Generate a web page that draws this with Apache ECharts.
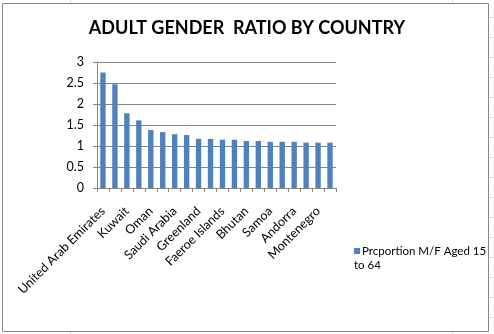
<!DOCTYPE html>
<html>
<head>
<meta charset="utf-8">
<style>
  html, body { margin: 0; padding: 0; background: #ffffff; }
  #chart { width: 494px; height: 334px; }
</style>
<script src="https://cdn.jsdelivr.net/npm/echarts@6/dist/echarts.min.js"></script>
</head>
<body>
<div id="chart"></div>
<script>
// Countries ranked by adult (15-64) male/female ratio
const countries = [
  'United Arab Emirates', 'Qatar', 'Kuwait', 'Bahrain', 'Oman',
  'Northern Mariana Islands', 'Saudi Arabia', 'Palau', 'Greenland', 'Brunei',
  'Faeroe Islands', 'Maldives', 'Bhutan', 'Cook Islands', 'Samoa',
  'American Samoa', 'Andorra', 'Jordan', 'Montenegro', 'Libya'
];
const ratios = [
  2.75, 2.47, 1.78, 1.61, 1.38,
  1.33, 1.28, 1.26, 1.17, 1.17,
  1.15, 1.15, 1.12, 1.12, 1.10,
  1.10, 1.10, 1.08, 1.08, 1.08
];
const yTicks = [0, 0.5, 1, 1.5, 2, 2.5, 3];
const seriesName = 'Prcportion M/F Aged 15 to 64';
const legendLines = ['Prcportion M/F Aged 15', 'to 64'];
const chartTitle = 'ADULT GENDER  RATIO BY COUNTRY';

const FONT = 'Lato, "Open Sans", sans-serif';
const BAR = '#4f81bd';
const LINE = '#868686';

// faint spreadsheet cell lines around the chart frame
const sheetLines = [];
for (let y = 17; y < 334; y += 20) {
  sheetLines.push({ type: 'line', silent: true, z: -1,
    shape: { x1: 490, y1: y + 0.5, x2: 494, y2: y + 0.5 },
    style: { stroke: '#d6dbe4', lineWidth: 1 } });
}
[70, 452].forEach(function (x) {
  sheetLines.push({ type: 'line', silent: true, z: -1,
    shape: { x1: x + 0.5, y1: 0, x2: x + 0.5, y2: 3 },
    style: { stroke: '#d6dbe4', lineWidth: 1 } });
  sheetLines.push({ type: 'line', silent: true, z: -1,
    shape: { x1: x + 0.5, y1: 332, x2: x + 0.5, y2: 334 },
    style: { stroke: '#d6dbe4', lineWidth: 1 } });
});

// series key: swatch on the first line, wrapped text continuing under it
const legendKey = {
  type: 'group',
  left: 354,
  top: 245,
  silent: true,
  children: [
    { type: 'rect', shape: { x: 0, y: 3, width: 6, height: 6 }, style: { fill: BAR } },
    { type: 'text', x: 8, y: 0,
      style: { text: legendLines[0], font: '11.5px ' + FONT, fill: '#000000', textVerticalAlign: 'top' } },
    { type: 'text', x: 0, y: 14,
      style: { text: legendLines[1], font: '11.5px ' + FONT, fill: '#000000', textVerticalAlign: 'top' } }
  ]
};

const chart = echarts.init(document.getElementById('chart'), null, { renderer: 'canvas' });
chart.setOption({
  backgroundColor: '#ffffff',
  animation: false,
  title: {
    text: chartTitle,
    left: 'center',
    top: 14,
    textStyle: { fontFamily: FONT, fontSize: 18, fontWeight: 'bold', color: '#000000' }
  },
  grid: { left: 97, right: 158, top: 62, bottom: 146 },
  xAxis: {
    type: 'category',
    data: countries,
    axisLine: { lineStyle: { color: LINE, width: 1 } },
    axisTick: { show: true, alignWithLabel: false, interval: 0, length: 4, lineStyle: { color: LINE } },
    axisLabel: {
      interval: 1,
      rotate: 45,
      margin: 21,
      fontFamily: FONT,
      fontSize: 12.5,
      color: '#000000'
    }
  },
  yAxis: {
    type: 'value',
    min: yTicks[0],
    max: yTicks[yTicks.length - 1],
    interval: 0.5,
    axisLine: { show: true, lineStyle: { color: LINE, width: 1 } },
    axisTick: { show: true, length: 4, lineStyle: { color: LINE } },
    splitLine: { lineStyle: { color: LINE, width: 1 } },
    axisLabel: { margin: 13, fontFamily: FONT, fontSize: 12.5, color: '#000000' }
  },
  series: [{
    name: seriesName,
    type: 'bar',
    data: ratios,
    barCategoryGap: '55%',
    itemStyle: { color: BAR }
  }],
  graphic: [{
    type: 'rect',
    silent: true,
    z: 100,
    shape: { x: 2.5, y: 3.5, width: 486, height: 328 },
    style: { fill: null, stroke: LINE, lineWidth: 1 }
  }, legendKey].concat(sheetLines)
});
</script>
</body>
</html>
